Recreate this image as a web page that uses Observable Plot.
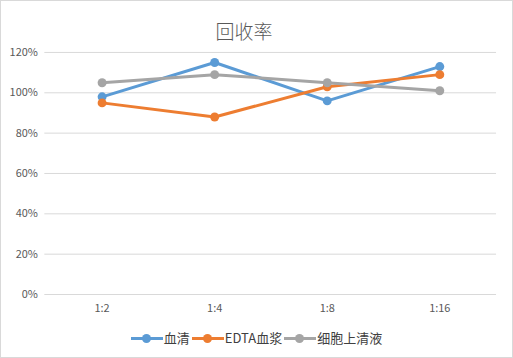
<!DOCTYPE html>
<html><head><meta charset="utf-8">
<script src="https://cdn.jsdelivr.net/npm/d3@7"></script>
<script src="https://cdn.jsdelivr.net/npm/@observablehq/plot@0.6"></script>
<style>
html,body{margin:0;padding:0;background:#fff;}
#chart{position:relative;width:511px;height:356px;border:1px solid #d9d9d9;font-family:"Noto Sans CJK SC","Noto Sans",sans-serif;color:#595959;}
#title{position:absolute;left:0;top:16px;width:486px;text-align:center;font-size:19px;font-weight:300;color:#595959;}
#plot{position:absolute;left:-1px;top:39px;}
#legend{position:absolute;left:0;top:327px;width:511px;display:flex;justify-content:center;align-items:center;font-size:13px;color:#404040;}
.item{display:flex;align-items:center;margin:0 1px;}
.sw{position:relative;width:32px;height:10px;margin-right:1px;}
.sw .ln{position:absolute;left:0;top:4px;width:32px;height:3px;}
.sw .dt{position:absolute;left:11px;top:1px;width:9px;height:9px;border-radius:50%;}
</style></head>
<body>
<div id="chart"><div id="title">回收率</div><div id="plot"></div><div id="legend"></div></div>
<script>
const categories = ["1:2","1:4","1:8","1:16"];
const seriesNames = ["血清","EDTA血浆","细胞上清液"];
const serum = [98, 115, 96, 113];
const edta = [95, 88, 103, 109];
const supernatant = [105, 109, 105, 101];
const yTicks = [0,20,40,60,80,100,120];
const colors = ["#5B9BD5","#ED7D31","#A5A5A5"];

const values = [serum, edta, supernatant];
const data = [];
seriesNames.forEach((s,i)=>categories.forEach((c,j)=>data.push({series:s, cat:c, v:values[i][j]})));

const plot = Plot.plot({
  width: 514, height: 287,
  marginTop: 12, marginBottom: 32, marginLeft: 44.5, marginRight: 16,
  style:{fontFamily:'"Noto Sans CJK SC","Noto Sans",sans-serif', fontSize:"11px", color:"#595959", background:"transparent"},
  x:{type:"point", domain:categories, padding:0.5, label:null},
  y:{domain:[0,120], ticks:yTicks, label:null},
  color:{domain:seriesNames, range:colors},
  marks:[
    Plot.ruleY(yTicks, {stroke:"#d9d9d9", strokeWidth:1}),
    Plot.axisY({ticks:yTicks, tickSize:0, tickPadding:7, tickFormat:d=>d+"%", label:null, fill:"#595959", fontSize:11}),
    Plot.axisX({tickSize:0, tickPadding:10, label:null, fill:"#595959", fontSize:11}),
    Plot.line(data, {x:"cat", y:"v", z:"series", stroke:"series", strokeWidth:3, strokeLinejoin:"round", strokeLinecap:"round"}),
    Plot.dot(data, {x:"cat", y:"v", fill:"series", r:4.5})
  ]
});
document.getElementById("plot").appendChild(plot);

const legend = document.getElementById("legend");
seriesNames.forEach((s,i)=>{
  const it = document.createElement("div"); it.className="item";
  it.innerHTML = `<div class="sw"><div class="ln" style="background:${colors[i]}"></div><div class="dt" style="background:${colors[i]}"></div></div><span>${s}</span>`;
  legend.appendChild(it);
});
</script>
</body></html>
